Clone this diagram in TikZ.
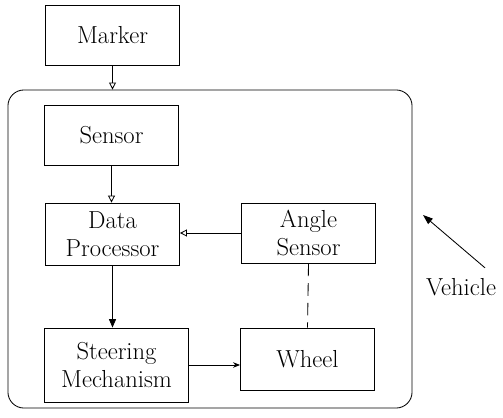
\documentclass[tikz,border=0pt]{standalone}
\usetikzlibrary{arrows.meta}

\begin{document}
\begin{tikzpicture}[
        x=0.025cm, y=-0.025cm,
        line width=0.6pt,
        every node/.style={font=\fontsize{17.5}{19.5}\selectfont, align=center, inner sep=0pt},
        block/.style={draw, minimum width=3.35cm, minimum height=1.5cm},
        frame/.style={draw, rounded corners=0.4cm, minimum width=10.1cm, minimum height=7.95cm},
        openarrow/.style={-{Triangle[open, length=5pt, width=5pt]}},
        fullarrow/.style={-{Triangle[length=6pt, width=5pt]}},
        link/.style={dash pattern=on 9pt off 5pt}
    ]
    \useasboundingbox (0,0) rectangle (503,418);

    \node[frame] (vehicle) at (210,249) {};

    \node[block] (marker) at (112.5,35) {Marker};
    \node[block] (sensor) at (111.5,135) {Sensor};
    \node[block, minimum height=1.55cm] (proc) at (112.5,234) {Data\\Processor};
    \node[block] (angle) at (308.5,233) {Angle\\Sensor};
    \node[block, minimum width=3.58cm, minimum height=1.85cm] (steer) at (116.5,365) {Steering\\Mechanism};
    \node[block, minimum height=1.55cm] (wheel) at (307.5,359) {Wheel};
    \node (vlabel) at (461,287) {Vehicle};
    \coordinate (vtip) at (423,215);

    \draw[openarrow] (marker.south) -- (marker.south |- vehicle.north);
    \draw[openarrow] (sensor.south) -- (sensor.south |- proc.north);
    \draw[openarrow] (angle.west) -- (proc.east |- angle.west);
    \draw[fullarrow] (proc.south) -- (proc.south |- steer.north);
    \draw[-{Stealth[length=5pt, width=4pt]}] (steer.east) -- (wheel.west |- steer.east);
    \draw[link] (angle.south) -- (wheel.north);
    \draw[-{Triangle[length=7pt, width=5pt]}] ([shift={(24,-10)}]vlabel.north) -- (vtip);
\end{tikzpicture}
\end{document}
